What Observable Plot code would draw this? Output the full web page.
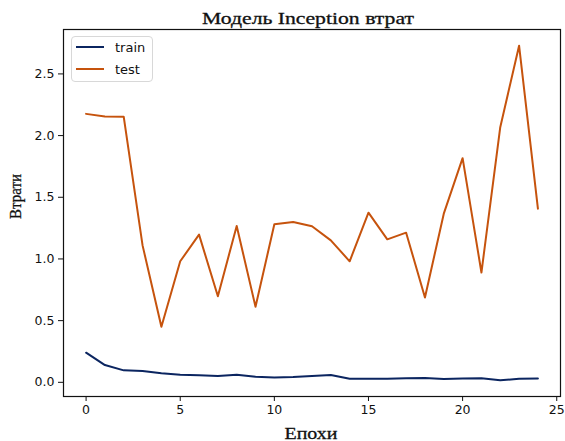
<!DOCTYPE html>
<html>
<head>
<meta charset="utf-8">
<script src="https://cdn.jsdelivr.net/npm/d3@7"></script>
<script src="https://cdn.jsdelivr.net/npm/@observablehq/plot@0.6"></script>
<style>
  html, body { margin: 0; padding: 0; background: #fff; }
  #wrap { position: relative; width: 565px; height: 441px; }
  #legend { position: absolute; left: 71px; top: 36px; width: 80px; height: 44px;
    border: 1px solid #d8d8d8; border-radius: 4px; background: rgba(255,255,255,0.85);
    font-family: "DejaVu Sans", sans-serif; font-size: 13px; color: #111; }
  .row { position: absolute; left: 4px; height: 16px; display: flex; align-items: center; }
  .sw { width: 28px; height: 0; border-top: 2px solid; margin-right: 11px; }
</style>
</head>
<body>
<div id="wrap"></div>
<script>
const epochs = [0,1,2,3,4,5,6,7,8,9,10,11,12,13,14,15,16,17,18,19,20,21,22,23,24];
const trainLoss = [0.240,0.140,0.097,0.091,0.073,0.062,0.057,0.051,0.062,0.045,0.040,0.043,0.052,0.059,0.029,0.029,0.029,0.032,0.035,0.027,0.030,0.032,0.016,0.029,0.030];
const testLoss = [2.176,2.155,2.152,1.110,0.450,0.981,1.197,0.698,1.267,0.612,1.281,1.300,1.265,1.151,0.981,1.375,1.159,1.213,0.688,1.367,1.817,0.890,2.068,2.729,1.408];
const seriesNames = ["train", "test"];
const seriesColors = ["#0b2560", "#c6530d"];
const xTicks = [0, 5, 10, 15, 20, 25];
const yTicks = [0, 0.5, 1.0, 1.5, 2.0, 2.5];
const titleText = "Модель Inception втрат";
const xLabel = "Епохи";
const yLabel = "Втрати";

const data = [];
epochs.forEach((e, i) => {
  data.push({epoch: e, loss: trainLoss[i], series: seriesNames[0]});
  data.push({epoch: e, loss: testLoss[i], series: seriesNames[1]});
});

const serif = "Liberation Serif, serif";
const chart = Plot.plot({
  width: 565,
  height: 441,
  marginLeft: 63,
  marginRight: 5,
  marginTop: 29,
  marginBottom: 45,
  style: {fontFamily: "DejaVu Sans, sans-serif", fontSize: "12.5px", color: "#111", background: "#fff"},
  x: {domain: [-1.2, 25.2], label: null},
  y: {domain: [-0.115, 2.86], label: null},
  color: {domain: seriesNames, range: seriesColors},
  marks: [
    Plot.frame({stroke: "#111", strokeWidth: 1.2}),
    Plot.axisX({ticks: xTicks, tickFormat: d => String(d), label: null, tickSize: 5, tickPadding: 4, fontSize: 12.5}),
    Plot.axisY({ticks: yTicks, tickFormat: d => d.toFixed(1), label: null, tickSize: 5, tickPadding: 4, fontSize: 12.5}),
    Plot.line(data, {x: "epoch", y: "loss", stroke: "series", strokeWidth: 2, z: "series"}),
    Plot.text([titleText], {frameAnchor: "top", dx: -4, dy: -6, lineAnchor: "bottom", text: d => d, fontFamily: serif, fontSize: 16.5, fill: "#111", stroke: "#111", strokeWidth: 0.3, className: "t-title"}),
    Plot.text([xLabel], {frameAnchor: "bottom", dx: -1, dy: 42, lineAnchor: "bottom", text: d => d, fontFamily: serif, fontSize: 16.5, fill: "#111", stroke: "#111", strokeWidth: 0.3, className: "t-xlab"}),
    Plot.text([yLabel], {frameAnchor: "left", dx: -48, dy: 6, rotate: -90, text: d => d, fontFamily: serif, fontSize: 17, fill: "#111", stroke: "#111", strokeWidth: 0.3, className: "t-ylab"})
  ]
});

const svg = d3.select(chart);
svg.select("g.t-title text").attr("textLength", 212).attr("lengthAdjust", "spacingAndGlyphs");
svg.select("g.t-xlab text").attr("textLength", 53).attr("lengthAdjust", "spacingAndGlyphs");
svg.select("g.t-ylab text").attr("textLength", 45).attr("lengthAdjust", "spacingAndGlyphs");

const wrap = document.getElementById("wrap");
wrap.appendChild(chart);
const legend = document.createElement("div");
legend.id = "legend";
seriesNames.forEach((name, i) => {
  const row = document.createElement("div");
  row.className = "row";
  row.style.top = (2 + i * 22) + "px";
  const sw = document.createElement("span");
  sw.className = "sw";
  sw.style.borderTopColor = seriesColors[i];
  const lab = document.createElement("span");
  lab.textContent = name;
  row.appendChild(sw);
  row.appendChild(lab);
  legend.appendChild(row);
});
wrap.appendChild(legend);
</script>
</body>
</html>
